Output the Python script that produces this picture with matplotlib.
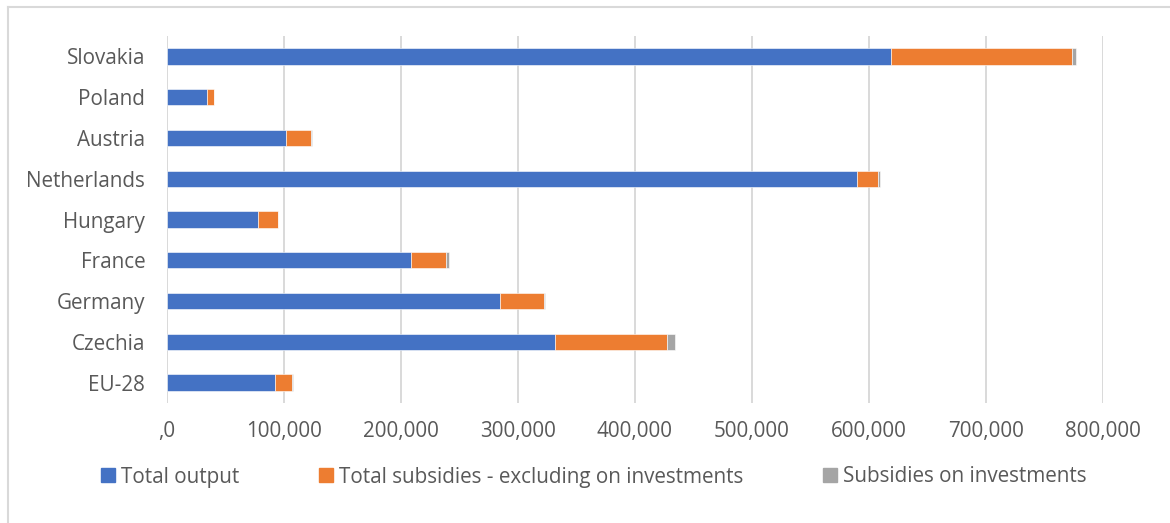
import matplotlib
matplotlib.use("Agg")
import matplotlib.pyplot as plt
from matplotlib.lines import Line2D
from matplotlib.ticker import FuncFormatter, MultipleLocator

# Data (EUR per farm), listed bottom to top
countries = ["EU-28", "Czechia", "Germany", "France", "Hungary",
             "Netherlands", "Austria", "Poland", "Slovakia"]
total_output = [92800, 332000, 284800, 208700, 78300,
                589800, 102200, 34400, 619400]
subsidies_excl_invest = [14500, 95500, 37600, 29900, 16800,
                         18200, 21300, 6000, 154100]
subsidies_invest = [700, 6800, 600, 2400, 300,
                    2000, 300, 200, 3400]

series_names = ["Total output", "Total subsidies - excluding on investments",
                "Subsidies on investments"]
colors = ["#4472C4", "#ED7D31", "#A5A5A5"]
text_color = "#595959"
grid_color = "#D9D9D9"

plt.rcParams["font.family"] = ["Open Sans", "DejaVu Sans"]

W, H = 1170, 523
fig = plt.figure(figsize=(W / 100, H / 100), dpi=100)

# plot area in pixel coordinates
x0, x1, y_top, y_bot = 166.7, 1102.7, 36, 403
ax = fig.add_axes([x0 / W, 1 - y_bot / H, (x1 - x0) / W, (y_bot - y_top) / H])

ypos = list(range(len(countries)))
left = [0] * len(countries)
for vals, name, col in zip([total_output, subsidies_excl_invest, subsidies_invest],
                           series_names, colors):
    ax.barh(ypos, vals, left=left, height=0.4, color=col, label=name,
            edgecolor="white", linewidth=0.4, zorder=3)
    left = [a + b for a, b in zip(left, vals)]

ax.set_xlim(0, 800000)
ax.set_ylim(-0.5, len(countries) - 0.5)
ax.xaxis.set_major_locator(MultipleLocator(100000))
ax.xaxis.set_major_formatter(FuncFormatter(lambda v, p: ",0" if v == 0 else f"{int(v):,}"))
ax.set_yticks(ypos)
ax.set_yticklabels(countries)

ax.grid(axis="x", color=grid_color, linewidth=1.4, zorder=0)
for s in ax.spines.values():
    s.set_visible(False)
ax.tick_params(axis="both", length=0, labelsize=14.9, labelcolor=text_color)
ax.tick_params(axis="x", pad=13)
ax.tick_params(axis="y", pad=15.5)

handles = [plt.Rectangle((0, 0), 1, 1, color=c) for c in colors]
fig.legend(handles, series_names, loc="center", bbox_to_anchor=(594 / W, 1 - 477 / H),
           ncol=3, frameon=False, fontsize=14.9, labelcolor=text_color,
           handlelength=0.68, handleheight=0.68, handletextpad=0.29,
           columnspacing=3.86, borderpad=0, borderaxespad=0)

# outer chart frame
fig.add_artist(Line2D([8 / W, 8 / W], [0, 1 - 7 / H], color=grid_color, linewidth=1.5,
                      transform=fig.transFigure))
fig.add_artist(Line2D([8 / W, 1], [1 - 7 / H, 1 - 7 / H], color=grid_color, linewidth=1.5,
                      transform=fig.transFigure))

fig.savefig("out.png", dpi=100, facecolor="white")
